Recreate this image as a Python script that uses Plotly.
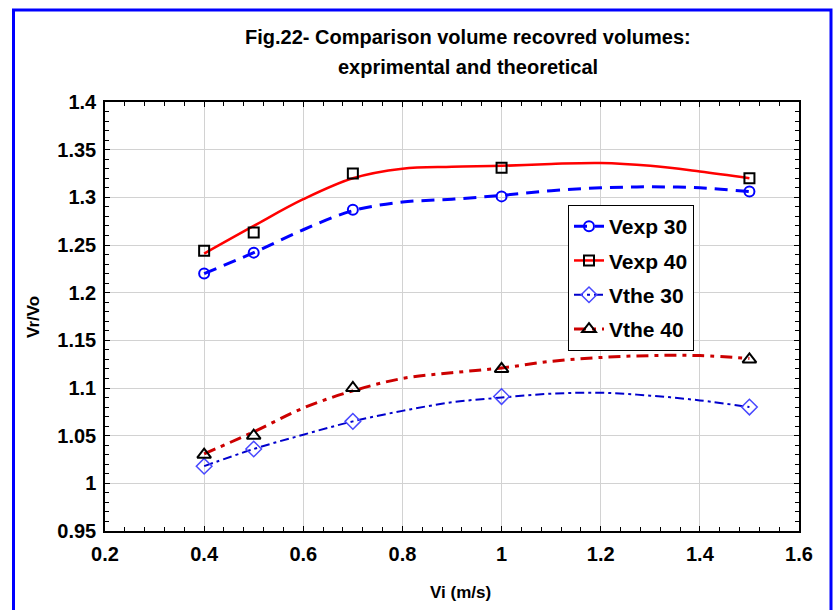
import plotly.graph_objects as go

# Measured data points
vi = [0.4, 0.5, 0.7, 1.0, 1.5]
vexp30 = [1.220, 1.242, 1.287, 1.301, 1.306]
vexp40 = [1.244, 1.263, 1.325, 1.331, 1.320]
vthe30 = [1.018, 1.036, 1.065, 1.091, 1.080]
vthe40 = [1.030, 1.050, 1.100, 1.120, 1.130]

# Smoothed trend curves
curve_x = [0.4, 0.5, 0.6, 0.7, 0.8, 0.9, 1.0, 1.1, 1.2, 1.3, 1.4, 1.5]
curve_vexp30 = [1.220, 1.242, 1.266, 1.286, 1.295, 1.298, 1.302, 1.307, 1.310, 1.311, 1.310, 1.306]
curve_vexp40 = [1.241, 1.270, 1.298, 1.320, 1.330, 1.332, 1.333, 1.335, 1.336, 1.333, 1.327, 1.320]
curve_vthe30 = [1.018, 1.036, 1.051, 1.065, 1.076, 1.085, 1.090, 1.094, 1.095, 1.092, 1.087, 1.080]
curve_vthe40 = [1.031, 1.054, 1.079, 1.097, 1.110, 1.116, 1.121, 1.128, 1.132, 1.134, 1.134, 1.131]

names = ["Vexp 30", "Vexp 40", "Vthe 30", "Vthe 40"]
points = [vexp30, vexp40, vthe30, vthe40]
curves = [curve_vexp30, curve_vexp40, curve_vthe30, curve_vthe40]

styles = [
    dict(line=dict(color="#0000ff", width=3, dash="13px,8px"),
         marker=dict(symbol="circle-open", size=10, color="#0000ff", line=dict(width=2, color="#0000ff"))),
    dict(line=dict(color="#ff0000", width=2.5, dash="solid"),
         marker=dict(symbol="square-open", size=10, color="#000000", line=dict(width=2, color="#000000"))),
    dict(line=dict(color="#0000cc", width=2, dash="9px,4px,3px,4px"),
         marker=dict(symbol="diamond-open", size=12, color="#4848ff", line=dict(width=1.5, color="#4848ff"))),
    dict(line=dict(color="#cc0000", width=3, dash="12px,6px,4px,6px"),
         marker=dict(symbol="triangle-up-open", size=12, color="#000000", line=dict(width=2, color="#000000"))),
]

fig = go.Figure()
for i, name in enumerate(names):
    st = styles[i]
    fig.add_trace(go.Scatter(x=curve_x, y=curves[i], mode="lines", line_shape="spline",
                             line=st["line"], showlegend=False, hoverinfo="skip"))
for i, name in enumerate(names):
    st = styles[i]
    fig.add_trace(go.Scatter(x=vi, y=points[i], mode="markers", marker=st["marker"],
                             showlegend=False, name=name))
for i, name in enumerate(names):
    st = styles[i]
    fig.add_trace(go.Scatter(x=[None], y=[None], mode="lines+markers", name=name,
                             line=st["line"], marker=st["marker"], legendgroup=name))

font_family = "Liberation Sans, Arial, sans-serif"

L, R, T, B = 105, 37, 102, 79
W, H = 836, 610
pw, ph = W - L - R, H - T - B

def px_x(x):
    return (x - L) / pw

def px_y(y):
    return (H - B - y) / ph

axis_common = dict(
    showline=True, linecolor="#000000", linewidth=1.5, mirror="allticks",
    ticks="inside", ticklen=5, tickwidth=1.2, tickcolor="#000000",
    showgrid=True, gridcolor="#d2d2d2", gridwidth=1, zeroline=False,
    tickfont=dict(family=font_family, size=20, color="#000000", weight="bold"),
)

fig.update_xaxes(range=[0.2, 1.6], dtick=0.2, tick0=0.2, ticklabelstandoff=4,
                 minor=dict(dtick=0.04, tick0=0.2, ticks="inside", ticklen=4, tickcolor="#000000", showgrid=False),
                 **axis_common)
fig.update_yaxes(range=[0.95, 1.4], dtick=0.05, tick0=0.95, ticklabelstandoff=3,
                 minor=dict(dtick=0.01, tick0=0.95, ticks="inside", ticklen=4, tickcolor="#000000", showgrid=False),
                 **axis_common)

title_font = dict(family=font_family, size=20, color="#000000", weight="bold")
annotations = [
    dict(text="Fig.22- Comparison volume recovred volumes:", x=px_x(468), y=px_y(37),
         xref="paper", yref="paper", showarrow=False, font=title_font, xanchor="center", yanchor="middle"),
    dict(text="exprimental and theoretical", x=px_x(468), y=px_y(67),
         xref="paper", yref="paper", showarrow=False, font=title_font, xanchor="center", yanchor="middle"),
    dict(text="Vi (m/s)", x=px_x(460), y=px_y(592), xref="paper", yref="paper", showarrow=False,
         font=dict(family=font_family, size=17, color="#000000", weight="bold"),
         xanchor="center", yanchor="middle"),
    dict(text="Vr/Vo", x=px_x(33), y=px_y(317), xref="paper", yref="paper", showarrow=False,
         textangle=-90, font=dict(family=font_family, size=17, color="#000000", weight="bold"),
         xanchor="center", yanchor="middle"),
]

fig.update_layout(
    width=W, height=H,
    margin=dict(l=L, r=R, t=T, b=B),
    paper_bgcolor="#ffffff", plot_bgcolor="#ffffff",
    annotations=annotations,
    legend=dict(x=px_x(568), y=px_y(205), xanchor="left", yanchor="top",
                bgcolor="#ffffff", bordercolor="#000000", borderwidth=1,
                font=dict(family=font_family, size=21, color="#000000", weight="bold"),
                tracegroupgap=4, itemwidth=30),
    shapes=[dict(type="rect", xref="paper", yref="paper",
                 x0=px_x(13.5), x1=px_x(831), y0=px_y(614), y1=px_y(10),
                 line=dict(color="#0000ff", width=3), fillcolor="rgba(0,0,0,0)", layer="above")],
    showlegend=True,
)

fig.write_html("out.html")
